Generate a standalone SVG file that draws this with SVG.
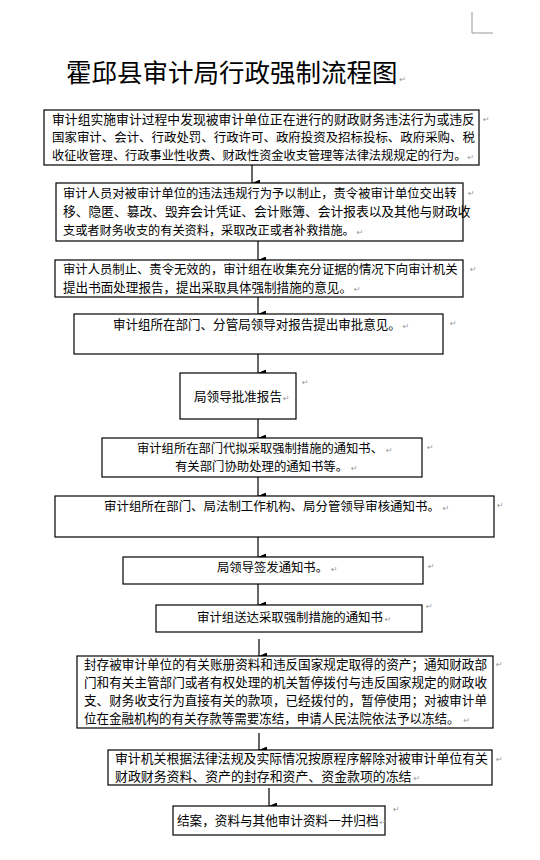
<svg xmlns="http://www.w3.org/2000/svg" width="540" height="860" viewBox="0 0 540 860">
<style>
.bx{fill:#fff;stroke:#000;stroke-width:1.2}
.t{font-family:"Noto Sans CJK SC","Noto Sans",sans-serif;font-size:12.5px;fill:#000}
.ti{font-family:"Noto Sans CJK SC",sans-serif;font-size:25.5px;fill:#000}
.pm{font-family:"DejaVu Sans",sans-serif;font-size:8px;fill:#999}
.cn{stroke:#000;stroke-width:1.2;fill:none;marker-end:url(#ah)}
</style>
<defs>
<marker id="ah" markerWidth="7" markerHeight="8" refX="3.5" refY="8" orient="auto" markerUnits="userSpaceOnUse" viewBox="0 0 7 8">
<path d="M0,0 L7,0 L3.5,8 Z" fill="#000"/>
</marker>
</defs>
<rect width="540" height="860" fill="#fff"/>
<path d="M472,12 V33 H493" fill="none" stroke="#999" stroke-width="1"/>
<g id="title">
<text class="ti" x="66" y="82">霍邱县审计局行政强制流程图<tspan class="pm" dx="2">↵</tspan></text>
</g>
<g id="connectors">
<path class="cn" d="M252,165 V183"/>
<path class="cn" d="M258,241 V260"/>
<path class="cn" d="M258,297 V314"/>
<path class="cn" d="M258,354 V373"/>
<path class="cn" d="M258,419 V438"/>
<path class="cn" d="M258,477 V496"/>
<path class="cn" d="M258,537 V557"/>
<path class="cn" d="M258,584 V605"/>
<path class="cn" d="M259,639 V656"/>
<path class="cn" d="M259,733 V750"/>
<path class="cn" d="M269,788 V806"/>
</g>
<g id="n1">
<rect class="bx" x="44" y="110" width="435" height="55"/>
<text class="t" x="52" y="124" style="font-size:12.82px">审计组实施审计过程中发现被审计单位正在进行的财政财务违法行为或违反</text>
<text class="t" x="52" y="142" style="font-size:12.44px">国家审计、会计、行政处罚、行政许可、政府投资及招标投标、政府采购、税</text>
<text class="t" x="52" y="160" style="font-size:12.2px">收征收管理、行政事业性收费、财政性资金收支管理等法律法规规定的行为。<tspan class="pm" dx="1">↵</tspan></text>
<text class="pm" x="483" y="122">↵</text>
</g>
<g id="n2">
<rect class="bx" x="56" y="183" width="407" height="58"/>
<text class="t" x="63" y="198" style="font-size:12.31px">审计人员对被审计单位的违法违规行为予以制止，责令被审计单位交出转</text>
<text class="t" x="63" y="216" style="font-size:12.74px">移、隐匿、篡改、毁弃会计凭证、会计账簿、会计报表以及其他与财政收</text>
<text class="t" x="63" y="235" style="font-size:12.17px">支或者财务收支的有关资料，采取改正或者补救措施。<tspan class="pm" dx="2">↵</tspan></text>
<text class="pm" x="468" y="196">↵</text>
</g>
<g id="n3">
<rect class="bx" x="55" y="260" width="408" height="37"/>
<text class="t" x="63" y="274" style="font-size:12.34px">审计人员制止、责令无效的，审计组在收集充分证据的情况下向审计机关</text>
<text class="t" x="63" y="292" style="font-size:12.57px">提出书面处理报告，提出采取具体强制措施的意见。<tspan class="pm" dx="2">↵</tspan></text>
<text class="pm" x="470" y="272">↵</text>
</g>
<g id="n4">
<rect class="bx" x="74" y="314" width="369" height="40"/>
<text class="t" x="113" y="329" style="font-size:12.52px">审计组所在部门、分管局领导对报告提出审批意见。<tspan class="pm" dx="2">↵</tspan></text>
<text class="pm" x="450" y="326">↵</text>
</g>
<g id="n5">
<rect class="bx" x="180" y="373" width="116" height="46"/>
<text class="t" x="194" y="401" style="font-size:12.57px">局领导批准报告<tspan class="pm" dx="1">↵</tspan></text>
<text class="pm" x="302" y="385">↵</text>
</g>
<g id="n6">
<rect class="bx" x="102" y="438" width="320" height="39"/>
<text class="t" x="137" y="453" style="font-size:12.3px">审计组所在部门代拟采取强制措施的通知书、<tspan class="pm" dx="3">↵</tspan></text>
<text class="t" x="175" y="471" style="font-size:12.36px">有关部门协助处理的通知书等。<tspan class="pm" dx="3">↵</tspan></text>
<text class="pm" x="427" y="450">↵</text>
</g>
<g id="n7">
<rect class="bx" x="55" y="496" width="439" height="41"/>
<text class="t" x="104" y="511" style="font-size:12.44px">审计组所在部门、局法制工作机构、局分管领导审核通知书。<tspan class="pm" dx="3">↵</tspan></text>
<text class="pm" x="497" y="508">↵</text>
</g>
<g id="n8">
<rect class="bx" x="123" y="557" width="300" height="27"/>
<text class="t" x="217" y="572" style="font-size:12.33px">局领导签发通知书。<tspan class="pm" dx="3">↵</tspan></text>
<text class="pm" x="428" y="569">↵</text>
</g>
<g id="n9">
<rect class="bx" x="156" y="605" width="266" height="27"/>
<text class="t" x="197" y="622" style="font-size:12.4px">审计组送达采取强制措施的通知书<tspan class="pm" dx="2">↵</tspan></text>
<text class="pm" x="426" y="609">↵</text>
</g>
<g id="n10">
<rect class="bx" x="77" y="656" width="416" height="72"/>
<text class="t" x="84" y="669" style="font-size:12.6px">封存被审计单位的有关账册资料和违反国家规定取得的资产；通知财政部</text>
<text class="t" x="84" y="687" style="font-size:12.6px">门和有关主管部门或者有权处理的机关暂停拨付与违反国家规定的财政收</text>
<text class="t" x="84" y="705" style="font-size:12.6px">支、财务收支行为直接有关的款项，已经拨付的，暂停使用；对被审计单</text>
<text class="t" x="84" y="723" style="font-size:12.53px">位在金融机构的有关存款等需要冻结，申请人民法院依法予以冻结。<tspan class="pm" dx="4">↵</tspan></text>
<text class="pm" x="496" y="667">↵</text>
</g>
<g id="n11">
<rect class="bx" x="108" y="750" width="384" height="35"/>
<text class="t" x="115" y="763" style="font-size:12.86px">审计机关根据法律法规及实际情况按原程序解除对被审计单位有关</text>
<text class="t" x="115" y="781" style="font-size:12.9px">财政财务资料、资产的封存和资产、资金款项的冻结<tspan class="pm" dx="2">↵</tspan></text>
<text class="pm" x="496" y="762">↵</text>
</g>
<g id="n12">
<rect class="bx" x="173" y="806" width="212" height="29"/>
<text class="t" x="177" y="825" style="font-size:12.6px">结案，资料与其他审计资料一并归档<tspan class="pm" dx="1">↵</tspan></text>
<text class="pm" x="393" y="812">↵</text>
</g>
</svg>
